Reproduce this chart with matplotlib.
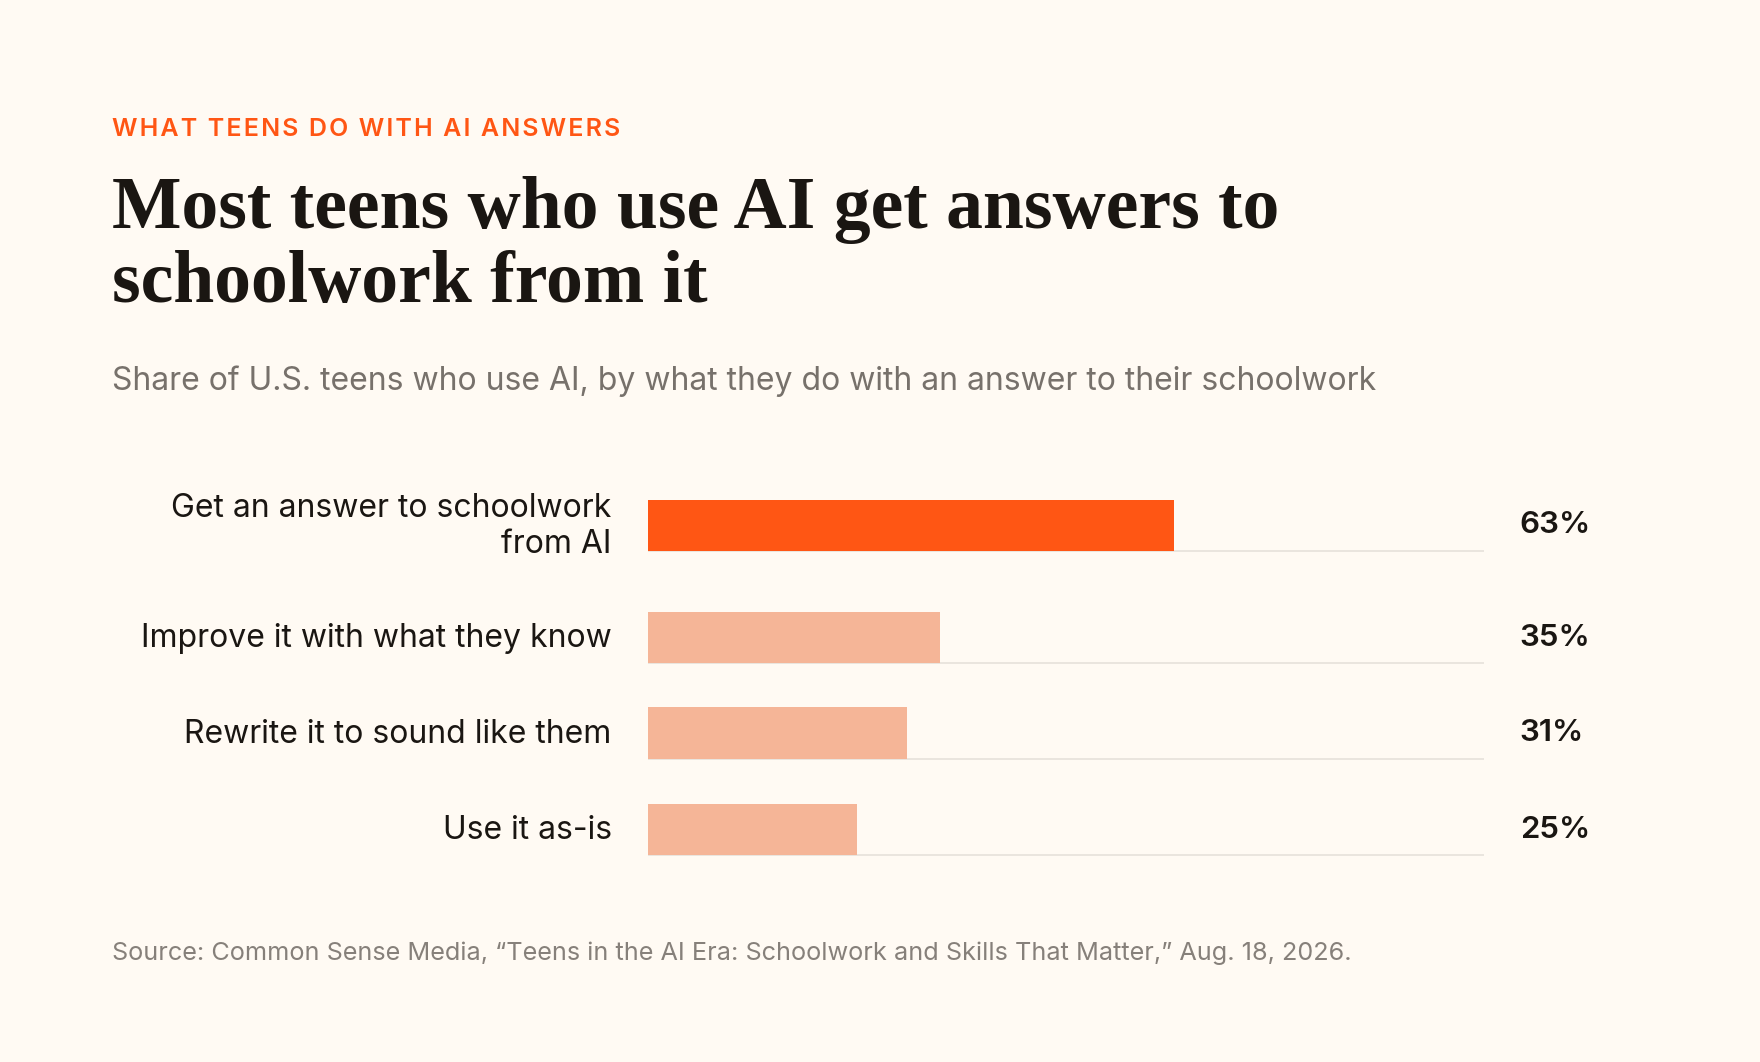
import matplotlib
matplotlib.use('Agg')
import matplotlib.pyplot as plt

categories = ['Get an answer to schoolwork\nfrom AI', 'Improve it with what they know',
              'Rewrite it to sound like them', 'Use it as-is']
values = [63, 35, 31, 25]
value_labels = ['63%', '35%', '31%', '25%']

BG = '#fffaf3'
ORANGE = '#ff5614'
LIGHT = '#f5b597'
W, H = 1568, 946  # reference layout units

fig = plt.figure(figsize=(17.6, 10.62), dpi=100, facecolor=BG)

def fx(x): return x / W
def fy(y): return 1 - y / H

kicker = '\u200a'.join('WHAT TEENS DO WITH AI ANSWERS')
fig.text(fx(100), fy(115), kicker, color=ORANGE, fontsize=18,
         family=['Inter', 'DejaVu Sans'], fontweight='semibold', va='center')
fig.text(fx(100), fy(220), 'Most teens who use AI get answers to\nschoolwork from it',
         color='#1a1612', fontsize=53, family='Liberation Serif', fontweight='bold',
         va='center', linespacing=1.12)
fig.text(fx(100), fy(340), 'Share of U.S. teens who use AI, by what they do with an answer to their schoolwork',
         color='#77716b', fontsize=23, family='Inter', va='center')
fig.text(fx(100), fy(849), 'Source: Common Sense Media, \u201cTeens in the AI Era: Schoolwork and Skills That Matter,\u201d Aug. 18, 2026.',
         color='#86807a', fontsize=18.2, family='Inter', va='center')

ax = fig.add_axes([fx(577), fy(790), fx(1322) - fx(577), (790 - 420) / H])
ax.set_facecolor('none')
pos = [468, 568, 653, 739]
bar_h = 46
colors = [ORANGE] + [LIGHT] * 3
for p, v, c, cat, lab in zip(pos, values, colors, categories, value_labels):
    ax.plot([0, 100], [p + bar_h / 2, p + bar_h / 2], color='#e6e1da', lw=1.2, zorder=1)
    ax.barh(p, v, height=bar_h, color=c, zorder=2)
    ax.text(-4.3, p + 1, cat, ha='right', va='center', fontsize=23, family='Inter',
            color='#1a1612', linespacing=1.2)
    ax.text(104.3, p, lab, ha='left', va='center', fontsize=22.5, family='Inter',
            fontweight='semibold', color='#1a1612')
ax.set_xlim(0, 100)
ax.set_ylim(790, 420)
ax.axis('off')

fig.savefig('out.png', dpi=100, facecolor=BG)
